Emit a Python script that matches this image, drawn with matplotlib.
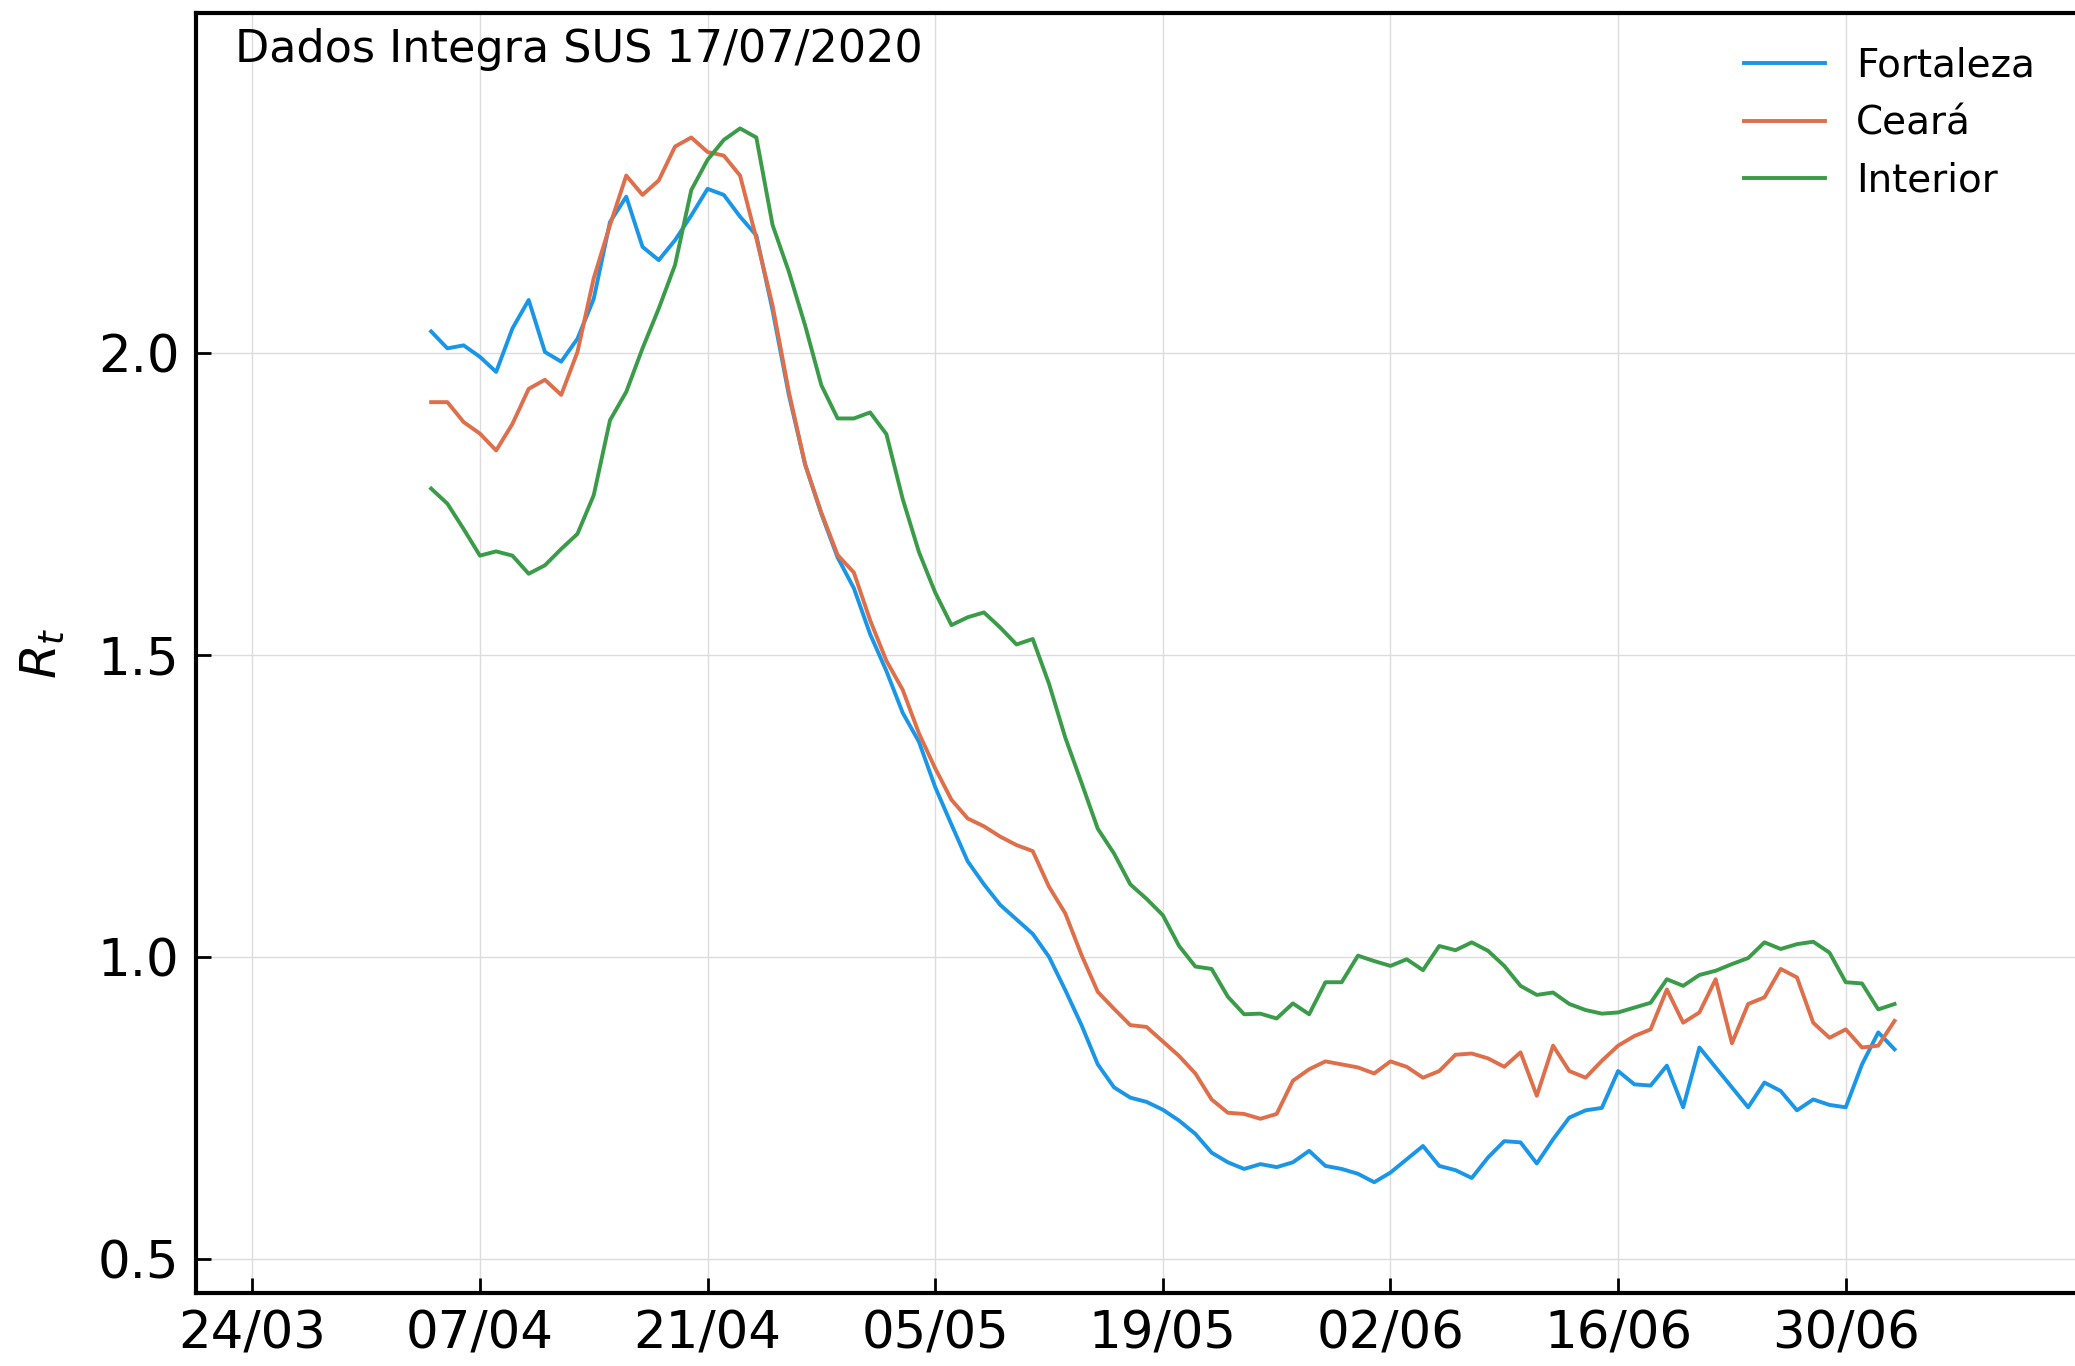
import numpy as np
import pandas as pd
import matplotlib
matplotlib.use("Agg")
import matplotlib.pyplot as plt
import matplotlib.dates as mdates

# Rt diario (a partir de 04/04/2020)
datas = pd.date_range("2020-04-04", periods=91, freq="D")

fortaleza = [2.035, 2.007, 2.012, 1.993, 1.968, 2.040, 2.087, 2.001, 1.985, 2.023,
             2.089, 2.216, 2.258, 2.175, 2.153, 2.186, 2.227, 2.271, 2.261, 2.225,
             2.194, 2.070, 1.930, 1.815, 1.733, 1.661, 1.610, 1.534, 1.473, 1.404,
             1.356, 1.281, 1.219, 1.158, 1.120, 1.086, 1.062, 1.038, 1.000, 0.945,
             0.887, 0.822, 0.784, 0.767, 0.760, 0.747, 0.729, 0.707, 0.676, 0.660,
             0.649, 0.657, 0.652, 0.660, 0.679, 0.654, 0.649, 0.641, 0.627, 0.643,
             0.665, 0.687, 0.654, 0.647, 0.634, 0.668, 0.695, 0.693, 0.658, 0.698,
             0.734, 0.746, 0.750, 0.811, 0.789, 0.787, 0.820, 0.751, 0.850, 0.817,
             0.784, 0.751, 0.792, 0.778, 0.746, 0.764, 0.755, 0.751, 0.822, 0.875,
             0.847]

ceara = [1.918, 1.918, 1.885, 1.866, 1.838, 1.882, 1.940, 1.955, 1.930, 2.001,
         2.123, 2.211, 2.293, 2.261, 2.285, 2.341, 2.356, 2.332, 2.326, 2.293,
         2.189, 2.078, 1.935, 1.815, 1.735, 1.665, 1.636, 1.557, 1.490, 1.442,
         1.370, 1.312, 1.260, 1.229, 1.216, 1.199, 1.185, 1.175, 1.116, 1.072,
         1.003, 0.942, 0.914, 0.887, 0.884, 0.860, 0.836, 0.807, 0.764, 0.742,
         0.740, 0.732, 0.740, 0.795, 0.814, 0.827, 0.822, 0.817, 0.807, 0.827,
         0.818, 0.800, 0.811, 0.838, 0.840, 0.832, 0.818, 0.842, 0.770, 0.853,
         0.811, 0.800, 0.828, 0.853, 0.869, 0.880, 0.946, 0.891, 0.908, 0.963,
         0.857, 0.922, 0.933, 0.980, 0.966, 0.891, 0.866, 0.880, 0.850, 0.853,
         0.894]

interior = [1.775, 1.750, 1.708, 1.664, 1.671, 1.664, 1.634, 1.648, 1.675, 1.700,
            1.764, 1.888, 1.935, 2.007, 2.073, 2.145, 2.269, 2.319, 2.352, 2.371,
            2.356, 2.211, 2.134, 2.045, 1.946, 1.891, 1.891, 1.901, 1.865, 1.758,
            1.670, 1.603, 1.549, 1.562, 1.570, 1.545, 1.517, 1.526, 1.452, 1.363,
            1.288, 1.212, 1.171, 1.120, 1.096, 1.069, 1.018, 0.984, 0.980, 0.934,
            0.905, 0.906, 0.898, 0.923, 0.905, 0.958, 0.958, 1.002, 0.993, 0.985,
            0.996, 0.978, 1.018, 1.011, 1.024, 1.010, 0.985, 0.952, 0.937, 0.941,
            0.922, 0.912, 0.906, 0.908, 0.916, 0.924, 0.963, 0.952, 0.970, 0.977,
            0.988, 0.998, 1.024, 1.013, 1.021, 1.025, 1.007, 0.958, 0.956, 0.913,
            0.922]

nomes = ["Fortaleza", "Ceará", "Interior"]
cores = ["#1a96e8", "#de6f4a", "#3a9c48"]
ticks_x = pd.date_range("2020-03-24", "2020-06-30", freq="14D")
ticks_y = [0.5, 1.0, 1.5, 2.0]

fig = plt.figure(figsize=(20.75, 13.66), dpi=100)
W, H = 2075, 1366
ax = fig.add_axes([196 / W, 73 / H, (W * 1.01 - 196) / W, 1280 / H])

for serie, nome, cor in zip([fortaleza, ceara, interior], nomes, cores):
    ax.plot(datas, serie, color=cor, lw=2.8, label=nome)

x0 = mdates.date2num(pd.Timestamp("2020-03-24")) - 3.46
ax.set_xlim(x0, x0 + (W * 1.01 - 196) / 16.26)
ax.set_ylim(0.4437, 2.562)

ax.set_xticks(ticks_x)
ax.xaxis.set_major_formatter(mdates.DateFormatter("%d/%m"))
ax.set_yticks(ticks_y)
ax.yaxis.set_major_formatter(matplotlib.ticker.FormatStrFormatter("%.1f"))
ax.tick_params(direction="in", length=11, width=2, labelsize=37, pad=12)
ax.grid(True, color="#dcdcdc", lw=1)
for s in ax.spines.values():
    s.set_linewidth(3)

ax.set_ylabel("$R_t$", fontsize=36)
ax.yaxis.set_label_coords(-0.068, 0.5)

fig.text(235 / W, 1 - 62 / H, "Dados Integra SUS 17/07/2020", fontsize=32, va="baseline")

fig.legend(loc="upper left", bbox_to_anchor=(1728 / W, 0.977), frameon=False,
           fontsize=28, handlelength=2.1, borderaxespad=0)

fig.savefig("out.png", dpi=100)
